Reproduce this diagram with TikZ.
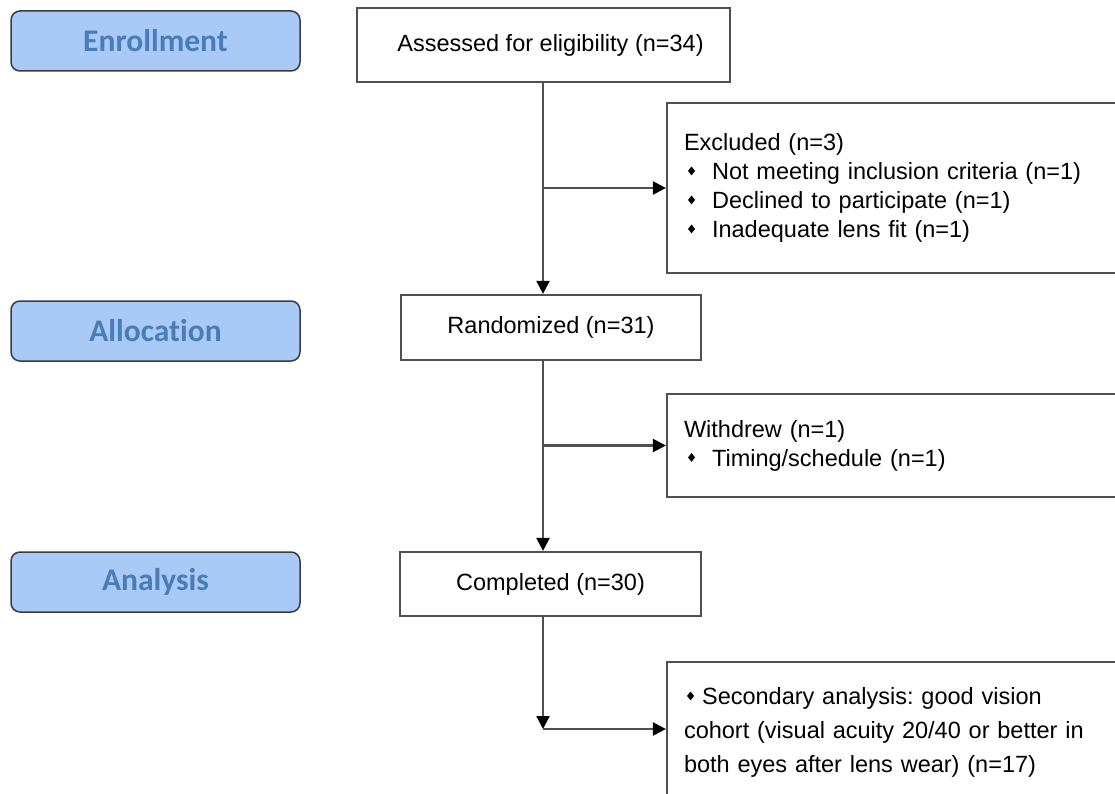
\documentclass[tikz,border=0pt]{standalone}
\usepackage{fontspec}
\setmainfont{Liberation Sans}
\newfontfamily\labfont[Ligatures=NoCommon]{Carlito}
\usetikzlibrary{arrows.meta}
\definecolor{phfill}{HTML}{A9C9F7}
\definecolor{phtext}{HTML}{4A7DB8}
\definecolor{phdraw}{HTML}{3C3C3C}
\definecolor{bx}{HTML}{505050}
\newcommand{\bul}{\raisebox{0.18em}{\scalebox{1}[1.25]{\rotatebox{45}{\rule{5pt}{5pt}}}}}
\frenchspacing
\begin{document}
\begin{tikzpicture}[x=1pt,y=-1pt,
 phase/.style={draw=phdraw, line width=1.5pt, fill=phfill, rounded corners=9pt,
   minimum width=289pt, minimum height=60pt, text=phtext, inner sep=0pt,
   font=\labfont\bfseries\fontsize{31.5}{36}\selectfont},
 box/.style={draw=bx, line width=2.2pt, fill=white, inner sep=0pt,
   font=\fontsize{23.5}{29}\selectfont},
 side/.style={box, text width=429pt, inner xsep=17pt, inner ysep=0pt, align=left},
 arr/.style={draw=bx, line width=2.2pt, -{Triangle[length=13pt,width=13pt,color=black]}}]
\useasboundingbox (0,0) rectangle (1115,794);
\clip (0,0) rectangle (1115,794);
\fill[white] (0,0) rectangle (1115,794);

\node[phase] (enr) at (155.5,41) {Enrollment};
\node[phase] (alc) at (155.5,331) {Allocation};
\node[phase] (ana) at (155.5,582) {Analysis};

\node[box, minimum width=373pt, minimum height=74pt] (asm) at (543.5,45) {\hspace*{14pt}Assessed for eligibility (n=34)};
\node[box, minimum width=300pt, minimum height=65pt] (rnd) at (551,327.5) {Randomized (n=31)};
\node[box, minimum width=301pt, minimum height=64pt] (cmp) at (550.5,584) {Completed (n=30)};

\node[side, minimum height=170pt] (exc) at (898.5,188) {Excluded (n=3)\\
\hspace*{4pt}\bul\hspace{17pt}Not meeting inclusion criteria (n=1)\\
\hspace*{4pt}\bul\hspace{17pt}Declined to participate (n=1)\\
\hspace*{4pt}\bul\hspace{17pt}Inadequate lens fit (n=1)};

\node[side, minimum height=103pt] (wdr) at (898.5,445.5) {Withdrew (n=1)\\
\hspace*{4pt}\bul\hspace{17pt}Timing/schedule (n=1)};

\node[side, minimum height=141pt, font=\fontsize{23.5}{34}\selectfont] (sec) at (898.5,732.5) {\hspace*{3pt}\bul\hspace{8pt}Secondary analysis: good vision\\
cohort (visual acuity 20/40 or better in\\
both eyes after lens wear) (n=17)};

\coordinate (sp) at (543,0);
\coordinate (tb) at (543,729);
\draw[arr] (asm.south -| sp) -- (rnd.north -| sp);
\draw[arr] (sp |- exc.west) -- (exc.west);
\draw[arr] (rnd.south -| sp) -- (cmp.north -| sp);
\draw[arr] (sp |- wdr.west) -- (wdr.west);
\draw[arr] (cmp.south -| sp) -- (tb);
\draw[arr] (tb) -- (sec.west |- tb);
\end{tikzpicture}
\end{document}
